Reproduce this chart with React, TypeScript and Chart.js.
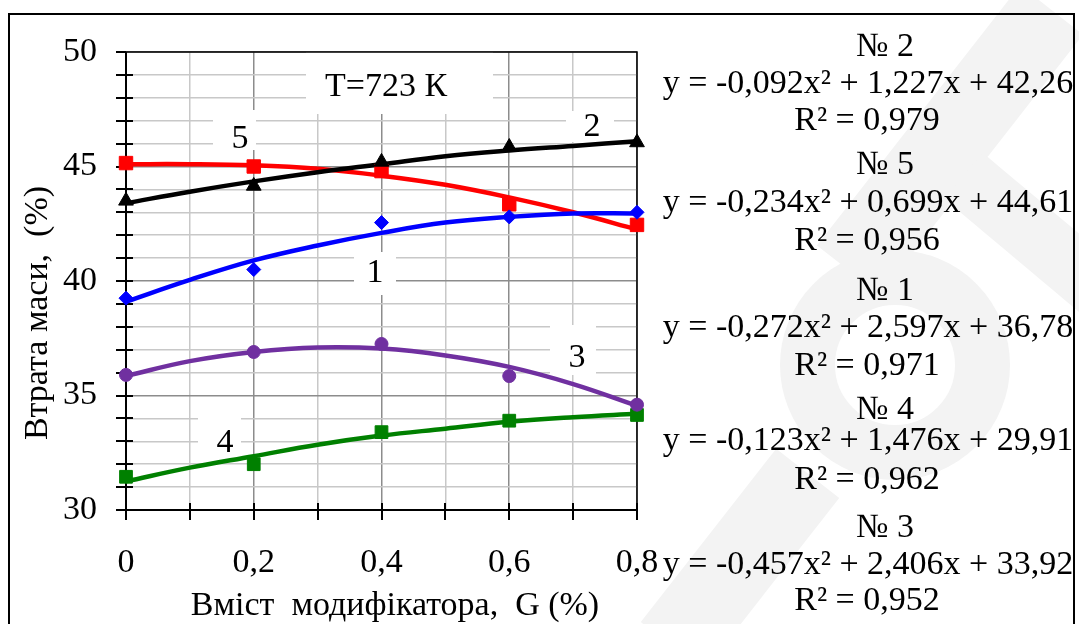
import React, { useEffect, useRef } from 'react';
import { Chart, registerables } from 'chart.js';

Chart.register(...registerables);

// ---------- data ----------
const xMarks = [0, 0.2, 0.4, 0.6, 0.8];
const xCurve = [0, 0.1, 0.2, 0.3, 0.4, 0.5, 0.6, 0.7, 0.8];

// series markers (measured points)
const s1Marks = [39.25, 40.5, 42.55, 42.8, 43.0];
const s2Marks = [43.5, 44.15, 45.2, 45.85, 46.05];
const s3Marks = [35.9, 36.9, 37.25, 35.85, 34.6];
const s4Marks = [31.45, 32.0, 33.4, 33.9, 34.15];
const s5Marks = [45.15, 45.0, 44.8, 43.35, 42.45];

// trend curves
const s1Curve = [39.1, 40.05, 40.9, 41.55, 42.1, 42.55, 42.8, 42.95, 42.95];
const s2Curve = [43.4, 43.9, 44.35, 44.75, 45.1, 45.45, 45.7, 45.9, 46.1];
const s3Curve = [35.85, 36.5, 36.9, 37.1, 37.05, 36.75, 36.25, 35.5, 34.55];
const s4Curve = [31.25, 31.85, 32.35, 32.85, 33.25, 33.55, 33.85, 34.05, 34.2];
const s5Curve = [45.1, 45.1, 45.05, 44.9, 44.6, 44.2, 43.65, 43.0, 42.25];

const yMin = 30;
const yMax = 50;
const xMin = 0;
const xMax = 0.8;

const equations = [
  { title: '№ 2', eq: 'y = -0,092x² + 1,227x + 42,26', r2: 'R² = 0,979' },
  { title: '№ 5', eq: 'y = -0,234x² + 0,699x + 44,61', r2: 'R² = 0,956' },
  { title: '№ 1', eq: 'y = -0,272x² + 2,597x + 36,78', r2: 'R² = 0,971' },
  { title: '№ 4', eq: 'y = -0,123x² + 1,476x + 29,91', r2: 'R² = 0,962' },
  { title: '№ 3', eq: 'y = -0,457x² + 2,406x + 33,92', r2: 'R² = 0,952' },
];

const FONT = "'Liberation Serif', 'DejaVu Serif', serif";
const FS = 34;

const pts = (xs: number[], ys: number[]) => xs.map((x, i) => ({ x, y: ys[i] }));

// inline labels with white boxes (pixel boxes)
const inlineLabels = [
  { text: 'T=723 К', box: [306, 52, 493, 114], at: [386, 87] },
  { text: '5', box: [213, 110, 256, 150], at: [240, 139] },
  { text: '2', box: [566, 111, 614, 142], at: [592, 127] },
  { text: '1', box: [354, 252, 396, 295], at: [375, 273] },
  { text: '3', box: [550, 325, 596, 375], at: [577, 358] },
  { text: '4', box: [198, 418, 241, 458], at: [225, 443] },
];

const decorPlugin = {
  id: 'decor',
  beforeDatasetsDraw(chart: any) {
    const { ctx, chartArea: a, scales } = chart;
    const xs = scales.x;
    const ys = scales.y;
    ctx.save();
    ctx.fillStyle = '#ffffff';
    inlineLabels.forEach((l) => {
      const [x1, y1, x2, y2] = l.box;
      ctx.fillRect(x1, y1, x2 - x1, y2 - y1);
    });
    ctx.fillStyle = '#000';
    ctx.font = `${FS}px ${FONT}`;
    ctx.textAlign = 'center';
    ctx.textBaseline = 'middle';
    inlineLabels.forEach((l) => {
      ctx.fillText(l.text, l.at[0], l.at[1]);
    });
    ctx.strokeStyle = '#000';
    ctx.lineWidth = 1.5;
    ctx.beginPath();
    ctx.moveTo(a.left, a.top);
    ctx.lineTo(a.right, a.top);
    ctx.lineTo(a.right, a.bottom);
    ctx.stroke();
    ctx.lineWidth = 2;
    ctx.beginPath();
    ctx.moveTo(a.left, a.top);
    ctx.lineTo(a.left, a.bottom);
    ctx.lineTo(a.right, a.bottom);
    ctx.stroke();
    ctx.beginPath();
    for (let v = yMin; v <= yMax; v++) {
      const py = Math.round(ys.getPixelForValue(v));
      ctx.moveTo(a.left - 10, py);
      ctx.lineTo(a.left + (v === yMax || v === yMin ? 0 : 7), py);
    }
    for (let i = 0; i <= 8; i++) {
      const px = Math.round(xs.getPixelForValue(i / 10));
      ctx.moveTo(px, a.bottom - (i === 0 ? 0 : 7));
      ctx.lineTo(px, a.bottom + 10);
    }
    ctx.stroke();
    ctx.restore();
  },
};

function App() {
  const ref = useRef<HTMLCanvasElement | null>(null);

  useEffect(() => {
    if (!ref.current) return;
    const mk = (label: string, ys: number[], color: string, style: string, r: number) => ({
      type: 'scatter' as const,
      label,
      data: pts(xMarks, ys),
      showLine: false,
      pointStyle: style,
      pointRadius: r,
      pointBackgroundColor: color,
      pointBorderColor: color,
      pointBorderWidth: 1,
      clip: false,
      order: 0,
    });
    const cv = (label: string, ys: number[], color: string) => ({
      type: 'line' as const,
      label,
      data: pts(xCurve, ys),
      borderColor: color,
      borderWidth: 4.5,
      pointRadius: 0,
      tension: 0.4,
      fill: false,
      clip: false,
      order: 1,
    });
    const chart = new Chart(ref.current, {
      type: 'scatter',
      data: {
        datasets: [
          cv('1 trend', s1Curve, '#0000ff'),
          cv('2 trend', s2Curve, '#000000'),
          cv('3 trend', s3Curve, '#7030a0'),
          cv('4 trend', s4Curve, '#008000'),
          cv('5 trend', s5Curve, '#ff0000'),
          mk('1', s1Marks, '#0000ff', 'rectRot', 7),
          mk('2', s2Marks, '#000000', 'triangle', 8.5),
          mk('3', s3Marks, '#7030a0', 'circle', 6.5),
          mk('4', s4Marks, '#008000', 'rect', 9),
          mk('5', s5Marks, '#ff0000', 'rect', 9.5),
        ] as any,
      },
      options: {
        animation: false,
        responsive: false,
        events: [],
        layout: { padding: { left: 0, top: 52, right: 442, bottom: 0 } },
        plugins: {
          legend: { display: false },
          tooltip: { enabled: false },
          title: { display: false },
        },
        scales: {
          x: {
            type: 'linear',
            min: xMin,
            max: xMax,
            afterFit: (s: any) => {
              s.height = 114;
            },
            border: { display: false },
            grid: {
              drawTicks: false,
              lineWidth: 1.5,
              color: (c: any) => {
                const k = Math.round((c.tick?.value ?? 0) * 10);
                return k % 2 === 0 ? '#8c8c8c' : '#c8c8c8';
              },
            },
            ticks: {
              stepSize: 0.1,
              padding: 33,
              color: '#000',
              font: { family: FONT, size: FS },
              maxRotation: 0,
              autoSkip: false,
              callback: (v: any) => {
                const k = Math.round(Number(v) * 10);
                if (k % 2 !== 0) return '';
                return k === 0 ? '0' : '0,' + k;
              },
            },
          },
          y: {
            type: 'linear',
            min: yMin,
            max: yMax,
            afterFit: (s: any) => {
              s.width = 126;
            },
            border: { display: false },
            grid: {
              drawTicks: false,
              lineWidth: 1.5,
              color: (c: any) => {
                const v = Math.round(c.tick?.value ?? 0);
                return v % 5 === 0 ? '#8c8c8c' : '#c8c8c8';
              },
            },
            ticks: {
              stepSize: 1,
              padding: 29,
              color: '#000',
              font: { family: FONT, size: FS },
              autoSkip: false,
              callback: (v: any) => {
                const n = Math.round(Number(v));
                return n % 5 === 0 ? String(n) : '';
              },
            },
          },
        },
      },
      plugins: [decorPlugin],
    });
    return () => chart.destroy();
  }, []);

  const lineStyle = (cx: number, cy: number): React.CSSProperties => ({
    position: 'absolute',
    left: cx - 300,
    top: cy - 20,
    width: 600,
    height: 40,
    lineHeight: '40px',
    textAlign: 'center',
    whiteSpace: 'pre',
    fontFamily: FONT,
    fontSize: FS,
    color: '#000',
  });

  const titleY = [45, 163, 289, 408, 526];
  const eqY = [82, 201, 326, 439, 563];
  const r2Y = [119, 239, 364, 478, 599];

  const band = (cx: number, cy: number, len: number, w: number, deg: number): React.CSSProperties => ({
    position: 'absolute',
    left: cx - len / 2,
    top: cy - w / 2,
    width: len,
    height: w,
    background: '#f3f3f3',
    transform: `rotate(${deg}deg)`,
  });

  return (
    <div
      style={{
        position: 'absolute',
        left: 0,
        top: 0,
        width: 1079,
        height: 624,
        overflow: 'hidden',
        background: '#fff',
      }}
    >
      {/* faint watermark */}
      <div style={band(950, 140, 330, 80, -52)} />
      <div style={band(740, 560, 220, 80, -52)} />
      <div style={band(1040, 240, 200, 60, 40)} />
      <div
        style={{
          position: 'absolute',
          left: 780,
          top: 250,
          width: 230,
          height: 230,
          borderRadius: '50%',
          border: '55px solid #f3f3f3',
          boxSizing: 'border-box',
        }}
      />
      <div
        style={{
          position: 'absolute',
          left: 8,
          top: 13,
          width: 1067,
          height: 640,
          border: '2px solid #000',
          boxSizing: 'border-box',
        }}
      />
      <canvas ref={ref} width={1079} height={624} style={{ position: 'absolute', left: 0, top: 0 }} />
      {equations.map((e, i) => (
        <React.Fragment key={i}>
          <div style={lineStyle(885, titleY[i])}>{e.title}</div>
          <div style={lineStyle(868, eqY[i])}>{e.eq}</div>
          <div style={lineStyle(867, r2Y[i])}>{e.r2}</div>
        </React.Fragment>
      ))}
      <div
        style={{
          position: 'absolute',
          left: 36 - 200,
          top: 313 - 20,
          width: 400,
          height: 40,
          lineHeight: '40px',
          textAlign: 'center',
          whiteSpace: 'pre',
          fontFamily: FONT,
          fontSize: FS,
          transform: 'rotate(-90deg)',
        }}
      >
        {'Втрата маси,  (%)'}
      </div>
      <div
        style={{
          position: 'absolute',
          left: 395 - 300,
          top: 604 - 20,
          width: 600,
          height: 40,
          lineHeight: '40px',
          textAlign: 'center',
          whiteSpace: 'pre',
          fontFamily: FONT,
          fontSize: FS,
        }}
      >
        {'Вміст  модифікатора,  G (%)'}
      </div>
    </div>
  );
}

export default App;
